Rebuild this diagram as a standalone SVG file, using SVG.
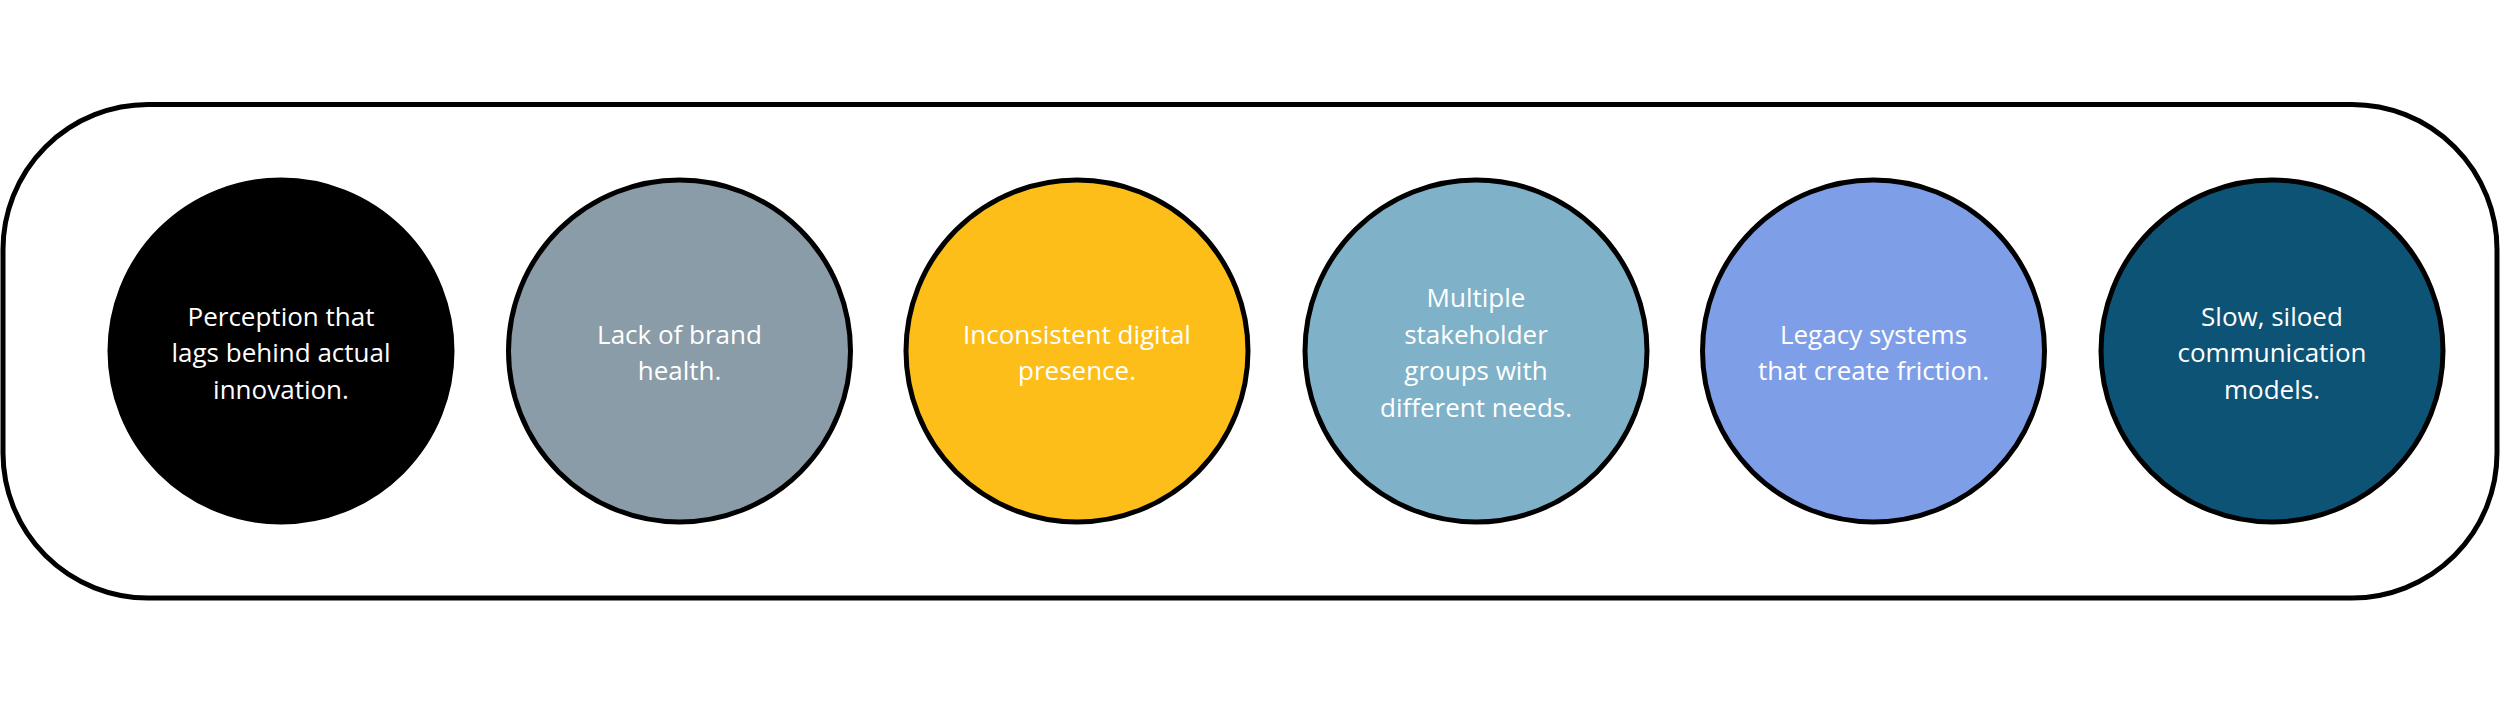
<svg xmlns="http://www.w3.org/2000/svg" width="2500" height="703" viewBox="0 0 2500 703">
<style>
.frame{fill:#fff;stroke:#000;stroke-width:5}
.node{stroke:#000;stroke-width:5}
.lbl{font-family:"Open Sans","Liberation Sans",sans-serif;font-size:26px;fill:#fff;text-anchor:middle}
</style>
<rect width="2500" height="703" fill="#fff"/>
<rect id="container" class="frame" x="3" y="104.5" width="2494" height="493.5" rx="145" ry="145"/>
<g id="connectors"></g>
<g id="n1">
<circle class="node" cx="281" cy="351" r="171" fill="#000"/>
<text class="lbl" x="281" y="325.5">Perception that</text>
<text class="lbl" x="281" y="362">lags behind actual</text>
<text class="lbl" x="281" y="398.5">innovation.</text>
</g>
<g id="n2">
<circle class="node" cx="679.5" cy="351" r="171" fill="#8A9CA7"/>
<text class="lbl" x="679.5" y="343.8">Lack of brand</text>
<text class="lbl" x="679.5" y="380.3">health.</text>
</g>
<g id="n3">
<circle class="node" cx="1077" cy="351" r="171" fill="#FDBE19"/>
<text class="lbl" x="1077" y="343.8">Inconsistent digital</text>
<text class="lbl" x="1077" y="380.3">presence.</text>
</g>
<g id="n4">
<circle class="node" cx="1476" cy="351" r="171" fill="#7FB2C8"/>
<text class="lbl" x="1476" y="307.3">Multiple</text>
<text class="lbl" x="1476" y="343.8">stakeholder</text>
<text class="lbl" x="1476" y="380.3">groups with</text>
<text class="lbl" x="1476" y="416.8">different needs.</text>
</g>
<g id="n5">
<circle class="node" cx="1873.5" cy="351" r="171" fill="#7F9EE8"/>
<text class="lbl" x="1873.5" y="343.8">Legacy systems</text>
<text class="lbl" x="1873.5" y="380.3">that create friction.</text>
</g>
<g id="n6">
<circle class="node" cx="2272" cy="351" r="171" fill="#0D5375"/>
<text class="lbl" x="2272" y="325.5">Slow, siloed</text>
<text class="lbl" x="2272" y="362">communication</text>
<text class="lbl" x="2272" y="398.5">models.</text>
</g>
</svg>
